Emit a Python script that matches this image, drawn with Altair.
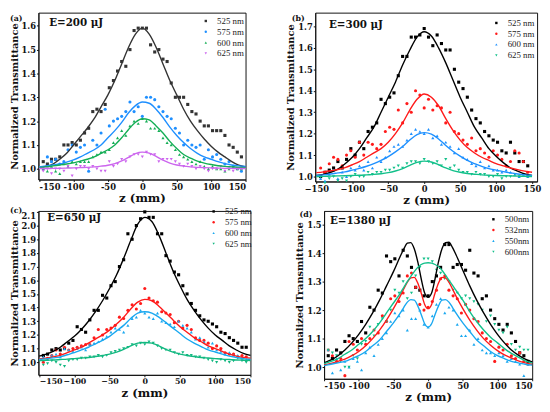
import altair as alt
import pandas as pd

# ---------------- data ----------------
Z_PTS = [-144, -138, -132, -126, -120, -114, -108, -102, -96, -90, -84, -78, -72, -66, -60, -54,
         -48, -42, -36, -30, -24, -18, -12, -6, 0, 6, 12, 18, 24, 30, 36, 42, 48, 54, 60, 66,
         72, 78, 84, 90, 96, 102, 108, 114, 120, 126, 132, 138, 144]
Z_FIT = [-150, -140, -130, -120, -110, -100, -90, -80, -70, -60, -50, -40, -30, -20, -10, 0,
         10, 20, 30, 40, 50, 60, 70, 80, 90, 100, 110, 120, 130, 140, 150]
Z_FIT_D = [-150, -140, -130, -120, -110, -100, -90, -80, -70, -60, -50, -40, -35, -30, -25, -20,
           -15, -10, -5, 0, 5, 10, 15, 20, 25, 30, 35, 40, 50, 60, 70, 80, 90, 100, 110, 120,
           130, 140, 150]

# (a) E=200 uJ
A_LABELS = ["525 nm", "575 nm", "600 nm", "625 nm"]
A_525_PTS = [1.03, 1.02, 1.04, 1.04, 1.05, 1.10, 1.10, 1.11, 1.10, 1.12, 1.15, 1.17, 1.24, 1.25, 1.24, 1.27,
             1.34, 1.37, 1.41, 1.45, 1.43, 1.50, 1.58, 1.59, 1.59, 1.59, 1.52, 1.49, 1.50, 1.46, 1.45, 1.36,
             1.30, 1.30, 1.30, 1.27, 1.24, 1.23, 1.20, 1.18, 1.18, 1.16, 1.16, 1.16, 1.14, 1.10, 1.09, 1.07, 1.05]
A_575_PTS = [1.00, 1.05, 1.03, 1.04, 1.02, 1.03, 1.08, 1.10, 1.07, 1.09, 1.10, 0.99, 1.12, 1.10, 1.15, 1.25,
             1.18, 1.20, 1.21, 1.22, 1.24, 1.28, 1.24, 1.26, 1.22, 1.30, 1.30, 1.29, 1.26, 1.24, 1.22, 1.21,
             1.17, 1.15, 1.10, 1.12, 1.10, 1.09, 1.10, 1.04, 1.08, 1.05, 1.06, 1.04, 1.02, 1.03, 1.01, 1.00, 0.99]
A_600_PTS = [1.00, 0.99, 1.01, 0.99, 0.98, 1.02, 1.01, 1.03, 1.02, 1.03, 1.03, 1.03, 1.05, 1.06, 1.07, 1.07,
             1.08, 1.11, 1.13, 1.16, 1.14, 1.18, 1.20, 1.19, 1.21, 1.20, 1.17, 1.17, 1.16, 1.13, 1.11, 1.10,
             1.08, 1.06, 1.05, 1.04, 1.03, 1.02, 1.03, 1.01, 1.00, 1.01, 1.00, 1.00, 0.99, 1.00, 1.01, 1.00, 1.00]
A_625_PTS = [0.99, 1.00, 0.98, 1.00, 1.00, 0.99, 1.01, 0.97, 1.00, 1.01, 1.01, 1.00, 1.01, 1.00, 0.99, 0.99,
             1.03, 1.01, 1.02, 1.04, 1.03, 1.05, 1.06, 1.06, 1.05, 1.07, 1.06, 1.06, 1.03, 1.04, 1.04, 1.04,
             1.03, 1.02, 1.01, 1.02, 1.01, 1.00, 1.01, 1.00, 0.99, 1.00, 1.00, 1.01, 0.99, 1.00, 0.99, 1.00, 1.00]
A_525_FIT = [1.005, 1.01, 1.02, 1.04, 1.065, 1.10, 1.135, 1.17, 1.21, 1.26, 1.31, 1.37, 1.44, 1.51, 1.565, 1.59,
             1.565, 1.51, 1.44, 1.37, 1.31, 1.25, 1.20, 1.16, 1.125, 1.095, 1.07, 1.05, 1.03, 1.015, 1.008]
A_575_FIT = [1.008, 1.012, 1.016, 1.02, 1.028, 1.037, 1.05, 1.065, 1.08, 1.10, 1.13, 1.16, 1.195, 1.235, 1.265, 1.28,
             1.275, 1.25, 1.215, 1.175, 1.14, 1.11, 1.085, 1.065, 1.05, 1.04, 1.03, 1.022, 1.016, 1.012, 1.01]
A_600_FIT = [1.005, 1.008, 1.012, 1.016, 1.02, 1.025, 1.032, 1.04, 1.05, 1.065, 1.08, 1.10, 1.13, 1.165, 1.195, 1.21,
             1.205, 1.18, 1.15, 1.115, 1.085, 1.06, 1.045, 1.032, 1.024, 1.018, 1.013, 1.01, 1.008, 1.006, 1.005]
A_625_FIT = [1.001, 1.001, 1.002, 1.002, 1.003, 1.004, 1.005, 1.006, 1.008, 1.011, 1.015, 1.022, 1.033, 1.048, 1.064, 1.07,
             1.066, 1.052, 1.036, 1.024, 1.016, 1.011, 1.008, 1.006, 1.005, 1.004, 1.003, 1.002, 1.002, 1.001, 1.001]

# (b) E=300 uJ
B_LABELS = ["525 nm", "575 nm", "600 nm", "625 nm"]
B_525_PTS = [1.00, 1.02, 1.03, 1.04, 1.07, 1.04, 1.08, 1.13, 1.10, 1.16, 1.13, 1.21, 1.23, 1.25, 1.36, 1.34,
             1.37, 1.39, 1.47, 1.56, 1.56, 1.65, 1.65, 1.66, 1.69, 1.65, 1.61, 1.66, 1.62, 1.59, 1.59, 1.50,
             1.44, 1.41, 1.37, 1.31, 1.27, 1.25, 1.21, 1.19, 1.17, 1.16, 1.12, 1.11, 1.16, 1.11, 1.07, 1.07, 1.05]
B_575_PTS = [1.04, 1.02, 1.06, 1.09, 1.08, 1.05, 1.10, 1.12, 1.09, 1.16, 1.10, 1.16, 1.15, 1.13, 1.15, 1.21,
             1.23, 1.22, 1.31, 1.25, 1.34, 1.30, 1.40, 1.38, 1.32, 1.36, 1.31, 1.33, 1.32, 1.25, 1.30, 1.21,
             1.20, 1.17, 1.15, 1.18, 1.12, 1.13, 1.11, 1.09, 1.12, 1.10, 1.08, 1.05, 1.07, 1.12, 1.11, 1.07, 1.02]
B_600_PTS = [0.99, 0.98, 1.01, 1.03, 0.99, 1.02, 1.00, 1.04, 1.03, 1.05, 1.03, 1.07, 1.04, 1.09, 1.07, 1.09,
             1.12, 1.14, 1.15, 1.14, 1.17, 1.20, 1.22, 1.21, 1.20, 1.22, 1.18, 1.19, 1.15, 1.16, 1.14, 1.11,
             1.13, 1.09, 1.08, 1.06, 1.05, 1.07, 1.04, 1.05, 1.03, 1.03, 1.02, 1.03, 1.02, 1.01, 1.00, 1.01, 1.00]
B_625_PTS = [1.00, 0.97, 0.99, 1.00, 0.98, 0.99, 0.98, 1.00, 1.01, 1.00, 1.00, 1.02, 1.01, 1.02, 1.02, 1.03,
             1.03, 1.04, 1.05, 1.04, 1.06, 1.07, 1.07, 1.06, 1.08, 1.07, 1.06, 1.07, 1.05, 1.08, 1.04, 1.05,
             1.03, 1.02, 1.02, 1.01, 1.02, 1.01, 1.01, 1.00, 1.00, 1.01, 0.99, 1.00, 1.00, 1.01, 1.00, 1.01, 1.00]
B_525_FIT = [1.005, 1.01, 1.02, 1.035, 1.06, 1.09, 1.13, 1.18, 1.23, 1.30, 1.37, 1.44, 1.52, 1.59, 1.65, 1.675,
             1.655, 1.60, 1.53, 1.45, 1.37, 1.30, 1.23, 1.18, 1.13, 1.095, 1.065, 1.04, 1.025, 1.012, 1.005]
B_575_FIT = [1.018, 1.022, 1.027, 1.033, 1.042, 1.055, 1.07, 1.09, 1.11, 1.13, 1.16, 1.20, 1.25, 1.31, 1.36, 1.385,
             1.37, 1.33, 1.27, 1.215, 1.17, 1.135, 1.11, 1.09, 1.075, 1.06, 1.05, 1.04, 1.032, 1.025, 1.02]
B_600_FIT = [1.005, 1.008, 1.012, 1.017, 1.022, 1.03, 1.038, 1.048, 1.06, 1.075, 1.093, 1.115, 1.14, 1.17, 1.195, 1.205,
             1.198, 1.175, 1.145, 1.118, 1.095, 1.075, 1.06, 1.047, 1.037, 1.03, 1.023, 1.017, 1.012, 1.008, 1.005]
B_625_FIT = [1.0, 1.001, 1.002, 1.003, 1.004, 1.005, 1.006, 1.008, 1.010, 1.013, 1.018, 1.026, 1.037, 1.052, 1.066, 1.072,
             1.068, 1.055, 1.04, 1.028, 1.02, 1.014, 1.011, 1.008, 1.006, 1.005, 1.004, 1.003, 1.002, 1.001, 1.0]

# (c) E=650 uJ
C_LABELS = ["525 nm", "575 nm", "600 nm", "625 nm"]
C_525_PTS = [1.05, 1.06, 1.09, 1.10, 1.09, 1.10, 1.14, 1.16, 1.26, 1.24, 1.22, 1.31, 1.38, 1.38, 1.49, 1.47,
             1.56, 1.59, 1.70, 1.75, 1.94, 1.90, 2.00, 2.05, 2.10, 2.06, 2.06, 1.94, 1.94, 1.78, 1.74, 1.66,
             1.64, 1.56, 1.50, 1.43, 1.38, 1.34, 1.31, 1.30, 1.28, 1.26, 1.22, 1.21, 1.18, 1.16, 1.14, 1.11, 1.11]
C_575_PTS = [1.00, 1.03, 1.05, 1.09, 1.06, 1.11, 1.09, 1.10, 1.11, 1.12, 1.13, 1.13, 1.18, 1.24, 1.20, 1.24,
             1.25, 1.27, 1.33, 1.32, 1.38, 1.42, 1.39, 1.43, 1.54, 1.47, 1.45, 1.44, 1.37, 1.36, 1.35, 1.29,
             1.30, 1.25, 1.27, 1.24, 1.18, 1.16, 1.16, 1.14, 1.10, 1.12, 1.10, 1.07, 1.06, 1.06, 1.04, 1.05, 1.04]
C_600_PTS = [1.04, 1.02, 1.05, 1.06, 1.04, 1.10, 1.09, 1.08, 1.10, 1.11, 1.09, 1.13, 1.14, 1.15, 1.17, 1.19,
             1.22, 1.25, 1.24, 1.22, 1.27, 1.32, 1.33, 1.38, 1.36, 1.33, 1.32, 1.36, 1.30, 1.29, 1.28, 1.26,
             1.30, 1.27, 1.25, 1.22, 1.17, 1.18, 1.15, 1.11, 1.14, 1.09, 1.08, 1.06, 1.07, 1.05, 1.05, 1.03, 1.02]
C_625_PTS = [0.98, 0.99, 1.01, 1.00, 0.98, 0.97, 1.01, 1.02, 1.02, 1.03, 1.03, 1.04, 1.04, 1.05, 1.04, 1.05,
             1.07, 1.08, 1.09, 1.10, 1.11, 1.13, 1.12, 1.14, 1.13, 1.15, 1.14, 1.12, 1.10, 1.09, 1.09, 1.07,
             1.06, 1.07, 1.05, 1.05, 1.04, 1.04, 1.03, 1.02, 1.01, 1.00, 1.02, 1.01, 1.00, 1.01, 1.03, 1.01, 1.00]
C_525_FIT = [1.045, 1.06, 1.08, 1.11, 1.15, 1.19, 1.24, 1.30, 1.37, 1.45, 1.54, 1.64, 1.76, 1.89, 2.01, 2.06,
             2.03, 1.93, 1.80, 1.67, 1.56, 1.46, 1.38, 1.31, 1.25, 1.20, 1.16, 1.12, 1.09, 1.065, 1.05]
C_575_FIT = [1.025, 1.03, 1.04, 1.05, 1.07, 1.09, 1.11, 1.14, 1.17, 1.20, 1.235, 1.28, 1.33, 1.39, 1.44, 1.46,
             1.45, 1.41, 1.36, 1.31, 1.26, 1.22, 1.18, 1.15, 1.12, 1.10, 1.08, 1.06, 1.045, 1.035, 1.03]
C_600_FIT = [1.02, 1.025, 1.032, 1.04, 1.055, 1.07, 1.09, 1.11, 1.135, 1.16, 1.19, 1.23, 1.27, 1.32, 1.36, 1.37,
             1.36, 1.33, 1.29, 1.25, 1.21, 1.17, 1.14, 1.115, 1.09, 1.075, 1.06, 1.045, 1.035, 1.027, 1.02]
C_625_FIT = [1.012, 1.015, 1.017, 1.02, 1.023, 1.027, 1.031, 1.035, 1.042, 1.05, 1.06, 1.075, 1.095, 1.12, 1.14, 1.145,
             1.14, 1.12, 1.095, 1.075, 1.06, 1.05, 1.042, 1.035, 1.031, 1.027, 1.023, 1.02, 1.017, 1.015, 1.013]

# (d) E=1380 uJ
D_LABELS = ["500nm", "532nm", "550nm", "600nm"]
D_500_PTS = [1.04, 1.03, 1.06, 1.05, 1.09, 1.11, 1.10, 1.09, 1.16, 1.12, 1.21, 1.20, 1.27, 1.26, 1.39, 1.37,
             1.38, 1.32, 1.41, 1.39, 1.35, 1.28, 1.27, 1.25, 1.25, 1.30, 1.32, 1.35, 1.43, 1.43, 1.35, 1.36,
             1.36, 1.34, 1.41, 1.33, 1.32, 1.24, 1.25, 1.20, 1.17, 1.15, 1.13, 1.15, 1.12, 1.09, 1.05, 1.04, 1.02]
D_532_PTS = [1.06, 1.04, 1.02, 1.03, 0.97, 1.09, 1.08, 1.06, 1.10, 1.08, 1.10, 1.13, 1.12, 1.18, 1.16, 1.24,
             1.25, 1.23, 1.26, 1.32, 1.33, 1.28, 1.22, 1.20, 1.21, 1.23, 1.27, 1.31, 1.32, 1.27, 1.25, 1.24,
             1.19, 1.22, 1.20, 1.17, 1.16, 1.12, 1.10, 1.09, 1.02, 1.07, 1.06, 1.08, 1.04, 1.03, 1.05, 1.02, 1.01]
D_550_PTS = [1.06, 0.98, 1.03, 0.99, 1.02, 1.00, 1.03, 1.02, 0.99, 1.05, 1.07, 1.04, 1.08, 1.10, 1.12, 1.16,
             1.19, 1.18, 1.20, 1.13, 1.17, 1.17, 1.20, 1.15, 1.14, 1.18, 1.22, 1.24, 1.19, 1.21, 1.20, 1.15,
             1.11, 1.11, 1.13, 1.08, 1.10, 1.06, 1.05, 1.05, 1.04, 1.05, 1.04, 1.02, 1.03, 1.02, 1.01, 0.97, 1.01]
D_600_PTS = [1.06, 1.05, 1.04, 1.02, 1.00, 1.00, 1.04, 1.03, 1.08, 1.09, 1.14, 1.11, 1.15, 1.17, 1.16, 1.20,
             1.27, 1.26, 1.30, 1.24, 1.26, 1.32, 1.35, 1.38, 1.38, 1.37, 1.34, 1.33, 1.31, 1.30, 1.27, 1.26,
             1.24, 1.25, 1.24, 1.23, 1.22, 1.20, 1.16, 1.18, 1.15, 1.13, 1.12, 1.14, 1.08, 1.06, 1.07, 1.06, 1.06]
D_500_FIT = [1.015, 1.025, 1.04, 1.06, 1.085, 1.115, 1.15, 1.19, 1.235, 1.285, 1.335, 1.39, 1.415, 1.435, 1.437, 1.415,
             1.37, 1.31, 1.26, 1.245, 1.26, 1.31, 1.37, 1.415, 1.437, 1.438, 1.42, 1.395, 1.34, 1.285, 1.235, 1.19,
             1.15, 1.115, 1.085, 1.06, 1.042, 1.028, 1.018]
D_532_FIT = [1.008, 1.013, 1.02, 1.028, 1.04, 1.055, 1.075, 1.10, 1.13, 1.165, 1.205, 1.25, 1.275, 1.298, 1.313, 1.315,
             1.295, 1.26, 1.22, 1.205, 1.22, 1.26, 1.295, 1.315, 1.313, 1.298, 1.275, 1.25, 1.205, 1.165, 1.13, 1.10,
             1.077, 1.058, 1.043, 1.032, 1.022, 1.015, 1.01]
D_550_FIT = [1.005, 1.01, 1.015, 1.02, 1.03, 1.04, 1.055, 1.075, 1.095, 1.125, 1.155, 1.19, 1.21, 1.228, 1.237, 1.235,
             1.215, 1.185, 1.152, 1.14, 1.152, 1.185, 1.215, 1.235, 1.237, 1.228, 1.21, 1.19, 1.155, 1.125, 1.095, 1.075,
             1.055, 1.04, 1.03, 1.02, 1.015, 1.01, 1.007]
D_600_FIT = [1.012, 1.02, 1.03, 1.045, 1.06, 1.08, 1.10, 1.125, 1.155, 1.19, 1.225, 1.26, 1.28, 1.30, 1.318, 1.335,
             1.35, 1.36, 1.365, 1.366, 1.365, 1.36, 1.352, 1.34, 1.323, 1.305, 1.288, 1.27, 1.235, 1.195, 1.16, 1.13,
             1.105, 1.085, 1.065, 1.048, 1.035, 1.022, 1.015]

LEGEND_FONT = "Liberation Serif"
BOLD_FONT = "DejaVu Serif"
SHAPES = ["square", "circle", "triangle-up", "triangle-down"]
XTICKS = [-150, -100, -50, 0, 50, 100, 150]


def panel(tag, energy, labels, colors, pts, fits, zfit, ydom, yticks, width, height,
          xdom, legend_xy, tag_xy, energy_xy, unicode_minus, xlabel_size=8.5, top_pad=None):
    prow, frow = [], []
    for lab, ys in zip(labels, pts):
        for z, y in zip(Z_PTS, ys):
            prow.append({"z": z, "T": y, "s": lab})
    for lab, ys in zip(labels, fits):
        for z, y in zip(zfit, ys):
            frow.append({"z": z, "T": y, "s": lab})
    pdf = pd.DataFrame(prow)
    fdf = pd.DataFrame(frow)

    axkw = dict(values=XTICKS, title="z (mm)", titleFontSize=12, titlePadding=2, labelPadding=1,
                labelFontSize=xlabel_size, labelOverlap=False, tickSize=2,
                labelFont=BOLD_FONT, titleFont=BOLD_FONT, labelFontWeight="bold", titleFontWeight="bold")
    if not unicode_minus:
        axkw["labelExpr"] = "'' + datum.value"
    x = alt.X("z:Q", scale=alt.Scale(domain=xdom, nice=False, zero=False), axis=alt.Axis(**axkw))
    y = alt.Y("T:Q", scale=alt.Scale(domain=ydom, nice=False, zero=False),
              axis=alt.Axis(values=yticks, format=".1f", title="Normalized Transmittance",
                            titleFontSize=10, titlePadding=2, labelPadding=1, labelFontSize=8.5,
                            labelOverlap=False, labelFlush=True, tickSize=2,
                            labelFont=BOLD_FONT, titleFont=BOLD_FONT,
                            labelFontWeight="bold", titleFontWeight="bold"))
    cscale = alt.Scale(domain=labels, range=colors)
    sscale = alt.Scale(domain=labels, range=SHAPES)
    leg = alt.Legend(title=None, orient="none", legendX=legend_xy[0], legendY=legend_xy[1],
                     labelFont=LEGEND_FONT, labelFontSize=9, labelFontWeight="normal",
                     labelColor="#222222", symbolSize=6, rowPadding=1, labelOffset=7,
                     padding=0, symbolStrokeWidth=0)
    points = alt.Chart(pdf).mark_point(filled=True, size=10, opacity=1).encode(
        x=x, y=y,
        color=alt.Color("s:N", scale=cscale, legend=leg),
        shape=alt.Shape("s:N", scale=sscale, legend=leg),
    )
    lines = alt.Chart(fdf).mark_line(strokeWidth=1.4, interpolate="monotone").encode(
        x=x, y=y,
        color=alt.Color("s:N", scale=cscale, legend=leg),
        detail="s:N",
    )
    tag_t = alt.Chart(pd.DataFrame({"t": [tag]})).mark_text(
        font=BOLD_FONT, fontSize=8, fontWeight="bold", align="left", baseline="middle", color="#111111"
    ).encode(text="t:N", x=alt.value(tag_xy[0]), y=alt.value(tag_xy[1]))
    en_t = alt.Chart(pd.DataFrame({"t": [energy]})).mark_text(
        font=BOLD_FONT, fontSize=10.5, fontWeight="bold", align="left", baseline="middle", color="#111111"
    ).encode(text="t:N", x=alt.value(energy_xy[0]), y=alt.value(energy_xy[1]))
    layers = [points, lines, tag_t, en_t]
    if top_pad is not None:
        # transparent spacer text that only widens the panel's layout bounds upward
        pad_t = alt.Chart(pd.DataFrame({"t": [tag]})).mark_text(
            font=BOLD_FONT, fontSize=8, align="left", baseline="middle", opacity=0
        ).encode(text="t:N", x=alt.value(tag_xy[0]), y=alt.value(top_pad))
        layers.append(pad_t)
    return alt.layer(*layers).properties(width=width, height=height)


pa = panel("(a)", "E=200 μJ", A_LABELS, ["#333333", "#1E8FFF", "#14AE55", "#CC66EE"],
           [A_525_PTS, A_575_PTS, A_600_PTS, A_625_PTS], [A_525_FIT, A_575_FIT, A_600_FIT, A_625_FIT],
           Z_FIT, [0.955, 1.655], [1.0, 1.1, 1.2, 1.3, 1.4, 1.5, 1.6], 211, 170,
           [-151, 150], (166, 4), (-29, 6), (11, 11), False)
pb = panel("(b)", "E=300 μJ", B_LABELS, ["#000000", "#FF1A1A", "#1E90FF", "#12C08A"],
           [B_525_PTS, B_575_PTS, B_600_PTS, B_625_PTS], [B_525_FIT, B_575_FIT, B_600_FIT, B_625_FIT],
           Z_FIT, [0.977, 1.764], [1.0, 1.1, 1.2, 1.3, 1.4, 1.5, 1.6, 1.7], 226, 172,
           [-151.5, 157], (180, 6), (-24, 6), (14, 13), True)
pc = panel("(c)", "E=650 μJ", C_LABELS, ["#000000", "#FF1A1A", "#1AA8F0", "#12B880"],
           [C_525_PTS, C_575_PTS, C_600_PTS, C_625_PTS], [C_525_FIT, C_575_FIT, C_600_FIT, C_625_FIT],
           Z_FIT, [0.908, 2.107], [1.0, 1.1, 1.2, 1.3, 1.4, 1.5, 1.6, 1.7, 1.8, 1.9, 2.0, 2.1], 216, 167,
           [-151, 150], (174, -4), (-29, 0), (9, 7), True, xlabel_size=8)
pd_ = panel("(d)", "E=1380 μJ", D_LABELS, ["#000000", "#FF1A1A", "#1AA8F0", "#12C08A"],
            [D_500_PTS, D_532_PTS, D_550_PTS, D_600_PTS], [D_500_FIT, D_532_FIT, D_550_FIT, D_600_FIT],
            Z_FIT_D, [0.959, 1.548], [1.0, 1.1, 1.2, 1.3, 1.4, 1.5], 212, 171,
            [-150, 150], (168, 4), (-25, 4), (6, 10), False, top_pad=0)

row1 = alt.hconcat(pa, pb, spacing=36).resolve_scale(color="independent", shape="independent")
row2 = alt.hconcat(pc, pd_, spacing=40).resolve_scale(color="independent", shape="independent")
chart = alt.vconcat(row1, row2, spacing=0).resolve_scale(
    color="independent", shape="independent"
).properties(padding=0).configure_view(
    stroke="#111111", strokeWidth=1
).configure_axis(
    labelColor="#111111", titleColor="#111111",
    domainColor="#111111", tickColor="#111111", grid=False
)

chart.save("out.html", embed_options={"renderer": "svg", "actions": False})
